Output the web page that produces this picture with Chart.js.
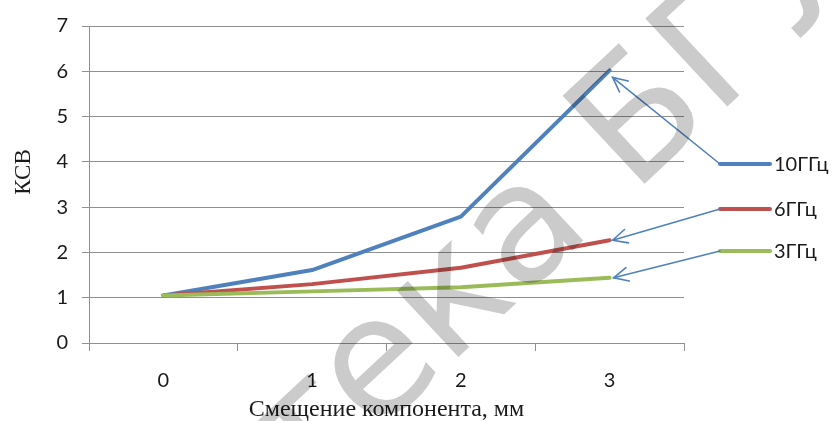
<!DOCTYPE html>
<html>
<head>
<meta charset="utf-8">
<script src="https://cdn.jsdelivr.net/npm/chart.js@4.4.1/dist/chart.umd.min.js"></script>
<style>
html,body{margin:0;padding:0;background:#fff;}
#wrap{width:835px;height:421px;position:relative;}
</style>
</head>
<body>
<div id="wrap"><canvas id="c" width="835" height="421"></canvas></div>
<script>
// ---- data ----
const categories = ['0', '1', '2', '3'];
const seriesNames = ['10ГГц', '6ГГц', '3ГГц'];
const values10 = [1.05, 1.61, 2.79, 6.02];
const values6 = [1.05, 1.30, 1.66, 2.27];
const values3 = [1.05, 1.14, 1.23, 1.44];
const yTickValues = [0, 1, 2, 3, 4, 5, 6, 7];
const xTitle = 'Смещение компонента, мм';
const yTitle = 'КСВ';
const watermark = 'Библиотека БГУИР';

// ---- styles ----
const colors = ['#4F81BD', '#C0504D', '#9BBB59'];
const gridColor = '#8f8f8f';
const tickFont = {family: 'Lato', size: 20};
const legendRows = [164, 209, 251];   // legend line y positions
const arrowTipShift = [[3, 7], [3, 0], [4, 0]];

const seriesData = [values10, values6, values3];

const overlay = {
  id: 'overlay',
  afterDatasetsDraw(chart) {
    const ctx = chart.ctx;
    const xs = chart.scales.x, ys = chart.scales.y;
    const ca = chart.chartArea;
    ctx.save();
    // axis titles
    ctx.fillStyle = '#1a1a1a';
    ctx.textAlign = 'center';
    ctx.textBaseline = 'middle';
    ctx.font = '24px "Liberation Serif"';
    ctx.fillText(xTitle, (ca.left + ca.right) / 2, 410);
    ctx.save();
    ctx.font = '23px "Liberation Serif"';
    ctx.translate(24, 172);
    ctx.rotate(-Math.PI / 2);
    ctx.fillText(yTitle, 0, 0);
    ctx.restore();

    // legend
    const lx0 = 720, lx1 = 770;
    ctx.font = tickFont.size + 'px ' + tickFont.family;
    ctx.textAlign = 'left';
    seriesNames.forEach((name, i) => {
      const y = legendRows[i];
      ctx.strokeStyle = colors[i];
      ctx.lineWidth = 4;
      ctx.lineCap = 'round';
      ctx.beginPath(); ctx.moveTo(lx0, y); ctx.lineTo(lx1, y); ctx.stroke();
      ctx.fillStyle = '#1a1a1a';
      ctx.fillText(name, lx1 + 4, y + 1);
    });

    // arrows from legend to last points
    ctx.strokeStyle = colors[0];
    ctx.lineWidth = 1.6;
    ctx.lineCap = 'round';
    seriesData.forEach((vals, i) => {
      const last = vals.length - 1;
      const tx = xs.getPixelForValue(last) + arrowTipShift[i][0];
      const ty = ys.getPixelForValue(vals[last]) + arrowTipShift[i][1];
      const sx = lx0, sy = legendRows[i];
      ctx.beginPath(); ctx.moveTo(sx, sy); ctx.lineTo(tx, ty); ctx.stroke();
      const ang = Math.atan2(sy - ty, sx - tx);
      const L = 16, w = 0.45;
      ctx.beginPath();
      ctx.moveTo(tx + L * Math.cos(ang - w), ty + L * Math.sin(ang - w));
      ctx.lineTo(tx, ty);
      ctx.lineTo(tx + L * Math.cos(ang + w), ty + L * Math.sin(ang + w));
      ctx.stroke();
    });

    // watermark (anchored on the centre of the big "Б")
    const S = 165;
    ctx.font = S + 'px "DejaVu Sans"';
    const pre = ctx.measureText('Библиотека ').width;
    const bw = ctx.measureText('Б').width;
    const a = -43 * Math.PI / 180;
    const lxp = pre + bw / 2, lyp = -0.365 * S;
    const tgx = 633, tgy = 112;
    const ox = tgx - (lxp * Math.cos(a) - lyp * Math.sin(a));
    const oy = tgy - (lxp * Math.sin(a) + lyp * Math.cos(a));
    ctx.globalCompositeOperation = 'multiply';
    ctx.fillStyle = 'rgb(203,203,203)';
    ctx.translate(ox, oy);
    ctx.rotate(a);
    ctx.textAlign = 'left';
    ctx.textBaseline = 'alphabetic';
    ctx.fillText(watermark, 0, 0);
    ctx.restore();
  }
};

new Chart(document.getElementById('c'), {
  type: 'line',
  data: {
    labels: categories,
    datasets: seriesNames.map((n, i) => ({
      label: n,
      data: seriesData[i],
      borderColor: colors[i],
      backgroundColor: colors[i],
      borderWidth: 4,
      pointRadius: 0,
      tension: 0,
      borderCapStyle: 'round',
      borderJoinStyle: 'round',
      order: 2 - i
    }))
  },
  options: {
    responsive: false,
    animation: false,
    events: [],
    layout: {padding: {left: 0, right: 151, top: 22, bottom: 0}},
    plugins: {legend: {display: false}, tooltip: {enabled: false}, title: {display: false}},
    scales: {
      x: {
        type: 'category',
        offset: true,
        grid: {offset: true, drawOnChartArea: false, drawTicks: true, tickLength: 8, color: gridColor, lineWidth: 1},
        border: {display: true, color: gridColor, width: 1},
        ticks: {font: tickFont, color: '#1a1a1a', padding: 18, maxRotation: 0},
        afterFit(s) { s.height = 78; }
      },
      y: {
        min: 0, max: 7,
        afterBuildTicks(s) { s.ticks = yTickValues.map(v => ({value: v})); },
        grid: {color: gridColor, lineWidth: 1, tickLength: 7, drawTicks: true},
        border: {display: true, color: gridColor, width: 1},
        ticks: {font: tickFont, color: '#1a1a1a', padding: 14},
        afterFit(s) { s.width = 89; }
      }
    }
  },
  plugins: [overlay]
});
</script>
</body>
</html>
